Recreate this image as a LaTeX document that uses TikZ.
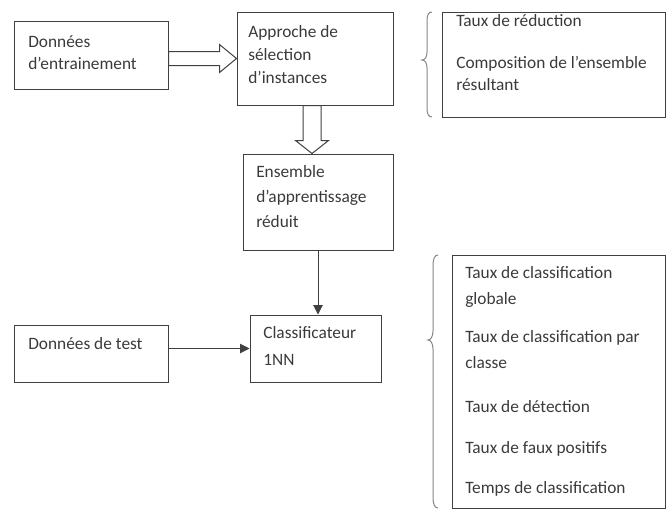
\documentclass[tikz,border=0pt]{standalone}
\usepackage{fontspec}
\setmainfont{Carlito}
\usetikzlibrary{calc,fit,arrows.meta}
\definecolor{ink}{HTML}{3A3A3A}
\definecolor{edge}{HTML}{404040}
\definecolor{bracegray}{HTML}{858585}
\begin{document}
\begin{tikzpicture}[x=0.75pt,y=-0.75pt,
  box/.style={draw=edge, line width=0.75pt, inner sep=0pt},
  txt/.style={font=\fontsize{13pt}{#1}\selectfont, anchor=north west,
    inner sep=0pt, align=left, text=ink, yshift=0.7*#1},
  hollow/.style={draw=edge, line width=0.75pt, fill=white, line join=miter},
  flow/.style={draw=edge, line width=0.75pt,
    -{Triangle[length=7pt,width=7pt]}},
  curl/.style={draw=bracegray, line width=0.75pt}]
\useasboundingbox (0,0) rectangle (668,512);

% boxes
\node[box, fit={(14,21) (168,89)}]    (train)   {};
\node[box, fit={(237,12) (393,105)}]  (select)  {};
\node[box, fit={(243,154) (393,250)}] (reduced) {};
\node[box, fit={(250,315) (381,382)}] (classif) {};
\node[box, fit={(14,325) (168,382)}]  (test)    {};
\node[box, fit={(442,12) (665,117)}]  (crit1)   {};
\node[box, fit={(452,255) (665,508)}] (crit2)   {};

% texts
\node[txt=16.5pt]  (train-t)   at (28,47)   {\strut Données\\ d’entrainement};
\node[txt=17.25pt] (select-t)  at (248,37)  {\strut Approche de\\ sélection\\ d’instances};
\node[txt=18.75pt] (reduced-t) at (256,177) {\strut Ensemble\\ d’apprentissage\\ réduit};
\node[txt=20.25pt] (classif-t) at (263,338) {\strut Classificateur\\ 1NN};
\node[txt=16.5pt]  (test-t)    at (28,349)  {\strut Données de test};
\node[txt=16.5pt]  (crit1-t)   at (456,26)
  {\strut Taux de réduction\\[15pt] Composition de l’ensemble\\ résultant};
\node[txt=19.5pt]  (crit2-t)   at (465,278)
  {\strut Taux de classification\\ globale\\[9pt]
   Taux de classification par\\ classe\\[13.5pt]
   Taux de détection\\[11.25pt]
   Taux de faux positifs\\[10.5pt]
   Temps de classification};

% hollow arrow: training data -> selection
\coordinate (h1) at (train.east |- select.west);
\coordinate (h2) at (select.west);
\draw[hollow] ($(h1)+(0,-7)$) -- ($(h2)+(-17,-7)$) -- ($(h2)+(-17,-14)$)
  -- (h2) -- ($(h2)+(-17,14)$) -- ($(h2)+(-17,7)$) -- ($(h1)+(0,7)$) -- cycle;

% hollow arrow: selection -> reduced set
\coordinate (v1) at ($(select.south)+(-3,0)$);
\coordinate (v2) at (v1 |- reduced.north);
\draw[hollow] ($(v1)+(-9,0)$) -- ($(v2)+(-9,-13)$) -- ($(v2)+(-16.5,-13)$)
  -- (v2) -- ($(v2)+(16.5,-13)$) -- ($(v2)+(9,-13)$) -- ($(v1)+(9,0)$) -- cycle;

% plain arrows
\draw[flow] (reduced.south) -- (reduced.south |- classif.north);
\draw[flow] (test.east |- classif.west) -- (classif.west);

% braces
\draw[curl] (432,12) .. controls (428.5,12) and (427,15) .. (427,21)
  -- (427,52) .. controls (427,57) and (425,60) .. (422,60)
  .. controls (425,60) and (427,63) .. (427,68)
  -- (427,108) .. controls (427,114) and (428.5,117) .. (432,117);
\draw[curl] (438,255) .. controls (434.5,255) and (433,259) .. (433,266)
  -- (433,331) .. controls (433,336) and (431,340) .. (428,340)
  .. controls (431,340) and (433,344) .. (433,349)
  -- (433,497) .. controls (433,504) and (434.5,508) .. (438,508);
\end{tikzpicture}
\end{document}
